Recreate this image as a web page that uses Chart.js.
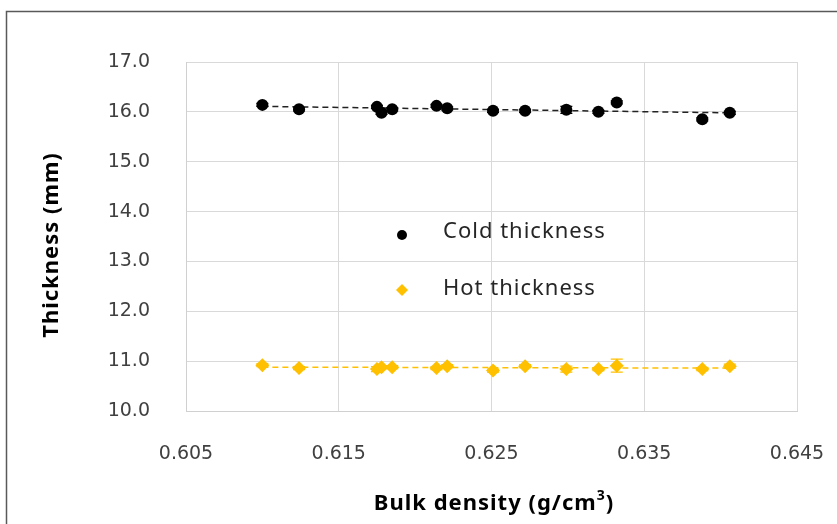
<!DOCTYPE html>
<html>
<head>
<meta charset="utf-8">
<script src="https://cdn.jsdelivr.net/npm/chart.js@4"></script>
<style>
  html, body { margin: 0; padding: 0; background: #fff; }
  #wrap { width: 837px; height: 524px; }
</style>
</head>
<body>
<div id="wrap"><canvas id="thickness-chart" width="837" height="524"></canvas></div>
<script>
const density = [0.6100, 0.6124, 0.6175, 0.6178, 0.6185, 0.6214, 0.6221, 0.6251, 0.6272, 0.6299, 0.6320, 0.6332, 0.6388, 0.6406];
const coldThickness = [16.14, 16.05, 16.10, 15.98, 16.05, 16.12, 16.07, 16.02, 16.02, 16.04, 16.00, 16.19, 15.85, 15.98];
const hotThickness = [10.92, 10.86, 10.84, 10.88, 10.88, 10.86, 10.90, 10.81, 10.90, 10.84, 10.84, 10.91, 10.84, 10.90];
const coldError = [0.03, 0.03, 0.03, 0.03, 0.03, 0.03, 0.03, 0.03, 0.03, 0.07, 0.03, 0.03, 0.03, 0.03];
const hotError = [0.03, 0.03, 0.05, 0.03, 0.03, 0.03, 0.03, 0.03, 0.03, 0.06, 0.03, 0.13, 0.03, 0.04];
const coldTrend = [16.11, 15.98];
const hotTrend = [10.88, 10.86];
const xTicks = [0.605, 0.615, 0.625, 0.635, 0.645];
const yTicks = [10, 11, 12, 13, 14, 15, 16, 17];

const COLD = '#000000';
const HOT = '#FFC000';

function points(ys) {
    return density.map((x, i) => ({ x: x, y: ys[i] }));
}
function trend(ends) {
    return [
        { x: density[0], y: ends[0] },
        { x: density[density.length - 1], y: ends[1] }
    ];
}

// error bars, axis titles, legend and the outer frame
const extras = {
    id: 'extras',
    beforeDraw(chart) {
        const ctx = chart.ctx;
        ctx.save();
        ctx.fillStyle = '#fff';
        ctx.fillRect(0, 0, chart.width, chart.height);
        ctx.strokeStyle = '#595959';
        ctx.lineWidth = 1.5;
        ctx.strokeRect(6.5, 11.5, 900, 600);
        ctx.restore();
    },
    afterDatasetsDraw(chart) {
        const ctx = chart.ctx;
        const xs = chart.scales.x, ys = chart.scales.y;
        ctx.save();
        [[coldThickness, coldError, COLD], [hotThickness, hotError, HOT]].forEach(([vals, errs, col]) => {
            ctx.strokeStyle = col;
            ctx.lineWidth = 1.2;
            vals.forEach((v, i) => {
                const px = xs.getPixelForValue(density[i]);
                const top = ys.getPixelForValue(v + errs[i]);
                const bot = ys.getPixelForValue(v - errs[i]);
                ctx.beginPath();
                ctx.moveTo(px, top); ctx.lineTo(px, bot);
                ctx.moveTo(px - 6, top); ctx.lineTo(px + 6, top);
                ctx.moveTo(px - 6, bot); ctx.lineTo(px + 6, bot);
                ctx.stroke();
            });
        });

        // legend
        ctx.letterSpacing = '1px';
        ctx.font = '22px "Noto Sans"';
        ctx.fillStyle = '#262626';
        ctx.textBaseline = 'alphabetic';
        ctx.fillText('Cold thickness', 443, 238);
        ctx.fillText('Hot thickness', 443, 295);
        ctx.fillStyle = COLD;
        ctx.beginPath();
        ctx.arc(402, 235, 5, 0, Math.PI * 2);
        ctx.fill();
        ctx.fillStyle = HOT;
        ctx.beginPath();
        ctx.moveTo(402, 284); ctx.lineTo(408, 290); ctx.lineTo(402, 296); ctx.lineTo(396, 290);
        ctx.closePath();
        ctx.fill();

        // y title
        ctx.fillStyle = '#000';
        ctx.font = 'bold 22px "Noto Sans"';
        ctx.textAlign = 'center';
        ctx.textBaseline = 'middle';
        ctx.save();
        ctx.translate(52, 245);
        ctx.rotate(-Math.PI / 2);
        ctx.fillText('Thickness (mm)', 0, 0);
        ctx.restore();

        // x title with superscript
        ctx.textAlign = 'left';
        ctx.textBaseline = 'alphabetic';
        const main = 'Bulk density (g/cm';
        const wMain = ctx.measureText(main).width;
        ctx.font = 'bold 14px "Noto Sans"';
        const wSup = ctx.measureText('3').width;
        ctx.font = 'bold 22px "Noto Sans"';
        const wEnd = ctx.measureText(')').width;
        let x0 = 494 - (wMain + wSup + wEnd) / 2;
        ctx.fillText(main, x0, 510);
        ctx.font = 'bold 14px "Noto Sans"';
        ctx.fillText('3', x0 + wMain, 500);
        ctx.font = 'bold 22px "Noto Sans"';
        ctx.fillText(')', x0 + wMain + wSup, 510);
        ctx.restore();
    }
};

const data = {
    datasets: [{
        label: 'Cold thickness',
        data: points(coldThickness),
        backgroundColor: COLD,
        borderColor: COLD,
        pointStyle: 'circle',
        pointRadius: 6,
        pointBorderWidth: 0
    }, {
        label: 'Hot thickness',
        data: points(hotThickness),
        backgroundColor: HOT,
        borderColor: HOT,
        pointStyle: 'rectRot',
        pointRadius: 7,
        pointBorderWidth: 0
    }, {
        label: 'Cold trend',
        type: 'line',
        data: trend(coldTrend),
        borderColor: '#222',
        borderWidth: 1.5,
        borderDash: [6, 4],
        pointRadius: 0,
        fill: false
    }, {
        label: 'Hot trend',
        type: 'line',
        data: trend(hotTrend),
        borderColor: HOT,
        borderWidth: 1.5,
        borderDash: [6, 4],
        pointRadius: 0,
        fill: false
    }]
};

const tickFont = { family: '"DejaVu Sans"', size: 19 };

const config = {
    type: 'scatter',
    data: data,
    options: {
        responsive: false,
        animation: false,
        layout: { padding: { left: 0, right: 40, top: 62, bottom: 0 } },
        plugins: {
            legend: { display: false },
            tooltip: { enabled: false }
        },
        scales: {
            x: {
                type: 'linear',
                min: 0.605,
                max: 0.645,
                afterBuildTicks: (scale) => { scale.ticks = xTicks.map(v => ({ value: v })); },
                afterFit: (scale) => {
                    scale.height = 113;
                    scale.paddingLeft = 0;
                    scale.paddingRight = 0;
                },
                ticks: {
                    font: tickFont,
                    color: '#404040',
                    padding: 32,
                    maxRotation: 0,
                    callback: (v) => v.toFixed(3)
                },
                grid: { color: '#d9d9d9', drawTicks: false },
                border: { color: '#d0d0d0' }
            },
            y: {
                min: 10,
                max: 17,
                afterBuildTicks: (scale) => { scale.ticks = yTicks.map(v => ({ value: v })); },
                afterFit: (scale) => {
                    scale.width = 186;
                    scale.paddingTop = 0;
                    scale.paddingBottom = 0;
                },
                ticks: {
                    font: tickFont,
                    color: '#404040',
                    padding: 36,
                    callback: (v) => v.toFixed(1)
                },
                grid: { color: '#d9d9d9', drawTicks: false },
                border: { color: '#d0d0d0' }
            }
        }
    },
    plugins: [extras]
};

const thicknessChart = new Chart(document.getElementById('thickness-chart'), config);
</script>
</body>
</html>
